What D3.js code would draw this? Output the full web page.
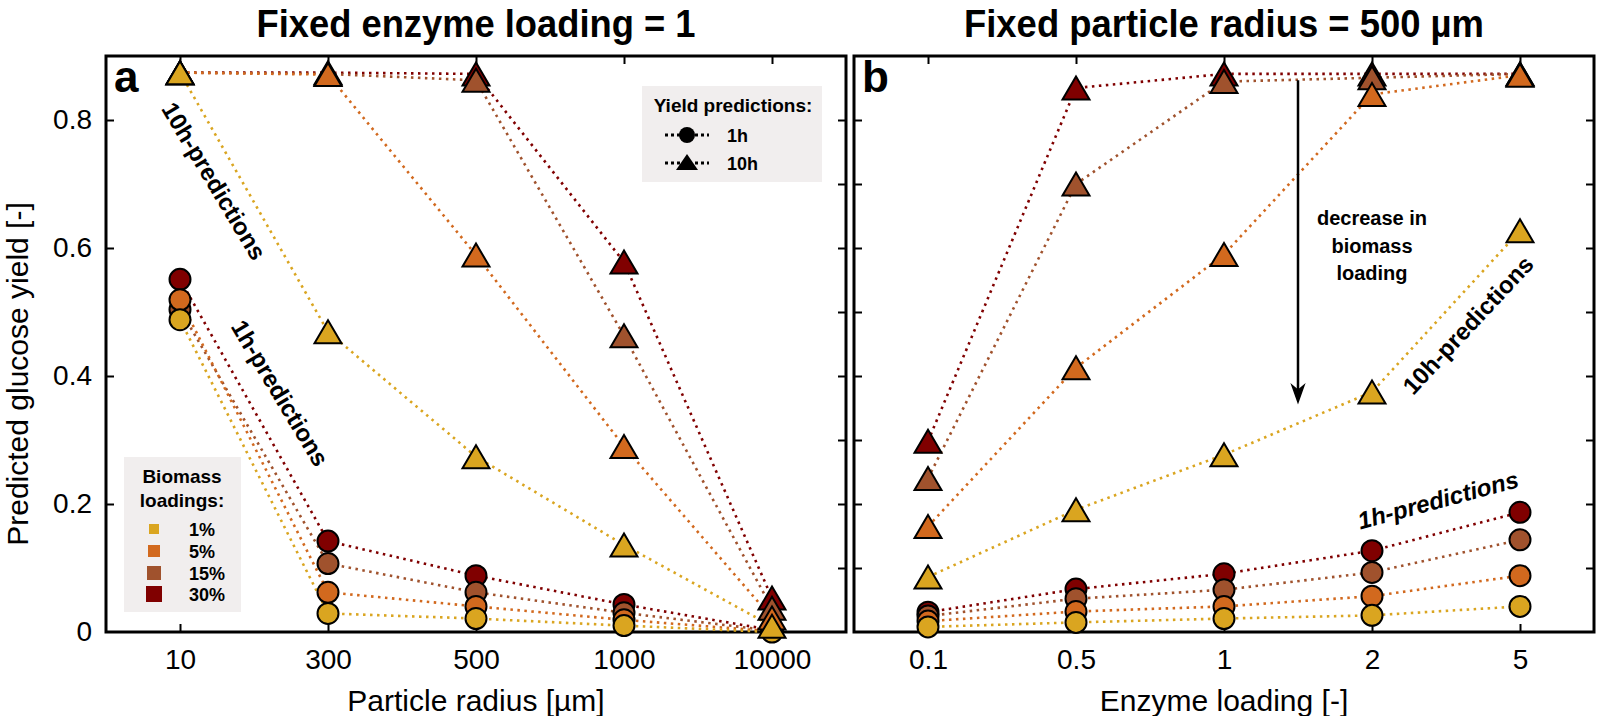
<!DOCTYPE html>
<html><head><meta charset="utf-8">
<script src="https://cdn.jsdelivr.net/npm/d3@7"></script>
<style>
body{margin:0;background:#fff}
svg{display:block}
text{font-family:"Liberation Sans",Arial,Helvetica,sans-serif;fill:#000}
</style>
</head><body>
<svg id="chart" width="1598" height="716"></svg>
<script>
// ---------- data ----------
const radiusCats = ["10","300","500","1000","10000"];
const enzymeCats = ["0.1","0.5","1","2","5"];
const loadingLabels = ["1%","5%","15%","30%"];
const loadingColors = ["#DAA520","#D2691E","#A0522D","#800000"];

// Panel a: fixed enzyme loading = 1, x = particle radius
const a1h_1  = [0.488, 0.029, 0.021, 0.010, 0.000];
const a1h_5  = [0.519, 0.062, 0.040, 0.019, 0.001];
const a1h_15 = [0.504, 0.107, 0.062, 0.030, 0.002];
const a1h_30 = [0.551, 0.142, 0.088, 0.043, 0.003];
const a10h_1  = [0.874, 0.469, 0.274, 0.136, 0.009];
const a10h_5  = [0.874, 0.871, 0.589, 0.290, 0.022];
const a10h_15 = [0.874, 0.872, 0.862, 0.463, 0.037];
const a10h_30 = [0.874, 0.874, 0.872, 0.578, 0.053];

// Panel b: fixed particle radius = 500 um, x = enzyme loading
const b1h_1  = [0.008, 0.015, 0.021, 0.026, 0.040];
const b1h_5  = [0.017, 0.032, 0.040, 0.056, 0.088];
const b1h_15 = [0.025, 0.052, 0.066, 0.093, 0.144];
const b1h_30 = [0.031, 0.067, 0.091, 0.127, 0.187];
const b10h_1  = [0.086, 0.191, 0.277, 0.375, 0.627];
const b10h_5  = [0.165, 0.413, 0.590, 0.840, 0.870];
const b10h_15 = [0.240, 0.700, 0.860, 0.866, 0.872];
const b10h_30 = [0.298, 0.850, 0.872, 0.872, 0.872];

const yLabelTicks = [0, 0.2, 0.4, 0.6, 0.8];
const yMinorTicks = [0.1, 0.2, 0.3, 0.4, 0.5, 0.6, 0.7, 0.8];

// ---------- drawing ----------
const svg = d3.select("#chart");
const TOP = 56, BOT = 632;
const y = d3.scaleLinear().domain([0, 0.9]).range([BOT, TOP]);

const triPath = "M0,-11.5L13.5,11.5L-13.5,11.5Z";

function panel(cfg) {
  const g = svg.append("g");
  const x = d3.scalePoint().domain(cfg.cats).range([cfg.left, cfg.right]).padding(0.5);

  // frame
  g.append("rect").attr("x", cfg.left).attr("y", TOP)
    .attr("width", cfg.right - cfg.left).attr("height", BOT - TOP)
    .attr("fill", "none").attr("stroke", "#000").attr("stroke-width", 3);

  // axes with inward ticks
  const bottom = g.append("g").attr("transform", `translate(0,${BOT})`)
    .call(d3.axisBottom(x).tickSize(-8).tickPadding(17));
  const top = g.append("g").attr("transform", `translate(0,${TOP})`)
    .call(d3.axisTop(x).tickSize(-8).tickFormat(""));
  const leftAx = d3.axisLeft(y).tickSize(-8).tickPadding(14)
    .tickValues(cfg.yLabels ? yLabelTicks.filter(v => v > 0) : yMinorTicks)
    .tickFormat(cfg.yLabels ? d3.format("") : "");
  const left = g.append("g").attr("transform", `translate(${cfg.left},0)`).call(leftAx);
  const right = g.append("g").attr("transform", `translate(${cfg.right},0)`)
    .call(d3.axisRight(y).tickSize(-8).tickValues(yMinorTicks).tickFormat(""));
  [bottom, top, left, right].forEach(a => {
    a.select(".domain").remove();
    a.selectAll(".tick line").attr("stroke", "#000").attr("stroke-width", 2);
    a.selectAll("text").attr("font-size", 28).attr("font-family", '"Liberation Sans",Arial,sans-serif').attr("fill", "#000");
  });
  if (cfg.yLabels) {
    g.append("text").attr("x", cfg.left - 14).attr("y", y(0)).attr("dy", "0.32em")
      .attr("text-anchor", "end").attr("font-size", 28).text("0");
  }

  const line = d3.line().x((d, i) => x(cfg.cats[i])).y(d => y(d));
  const order = [3, 2, 1, 0]; // 30% first, 1% last (on top)

  // dotted lines
  order.forEach(k => {
    [cfg.s1h[k], cfg.s10h[k]].forEach(s => {
      g.append("path").datum(s).attr("d", line)
        .attr("fill", "none").attr("stroke", loadingColors[k])
        .attr("stroke-width", 2.6).attr("stroke-dasharray", "2.5 4.5");
    });
  });
  // 1h circles
  order.forEach(k => {
    g.append("g").selectAll("circle").data(cfg.s1h[k]).join("circle")
      .attr("cx", (d, i) => x(cfg.cats[i])).attr("cy", d => y(d)).attr("r", 10.5)
      .attr("fill", loadingColors[k]).attr("stroke", "#000").attr("stroke-width", 2);
  });
  // 10h triangles
  order.forEach(k => {
    g.append("g").selectAll("path").data(cfg.s10h[k]).join("path")
      .attr("d", triPath)
      .attr("transform", (d, i) => `translate(${x(cfg.cats[i])},${y(d)})`)
      .attr("fill", loadingColors[k]).attr("stroke", "#000").attr("stroke-width", 2)
      .attr("stroke-linejoin", "miter");
  });

  // title
  svg.append("text").attr("x", (cfg.left + cfg.right) / 2).attr("y", 37)
    .attr("text-anchor", "middle").attr("font-size", 39).attr("font-weight", "bold")
    .attr("textLength", cfg.titleLen).attr("lengthAdjust", "spacingAndGlyphs")
    .text(cfg.title);
  // panel letter
  svg.append("text").attr("x", cfg.left + 8).attr("y", 92)
    .attr("font-size", 44).attr("font-weight", "bold").text(cfg.letter);
  // x label
  svg.append("text").attr("x", (cfg.left + cfg.right) / 2).attr("y", 711)
    .attr("text-anchor", "middle").attr("font-size", 30).text(cfg.xlabel);
  return x;
}

const xa = panel({
  left: 106, right: 846, cats: radiusCats,
  s1h: [a1h_1, a1h_5, a1h_15, a1h_30], s10h: [a10h_1, a10h_5, a10h_15, a10h_30],
  yLabels: true, title: "Fixed enzyme loading = 1", titleLen: 439, letter: "a",
  xlabel: "Particle radius [\u00b5m]"
});
const xb = panel({
  left: 854, right: 1594, cats: enzymeCats,
  s1h: [b1h_1, b1h_5, b1h_15, b1h_30], s10h: [b10h_1, b10h_5, b10h_15, b10h_30],
  yLabels: false, title: "Fixed particle radius = 500 \u00b5m", titleLen: 520, letter: "b",
  xlabel: "Enzyme loading [-]"
});

// y-axis label
svg.append("text").attr("transform", "translate(28,374) rotate(-90)")
  .attr("text-anchor", "middle").attr("font-size", 30).text("Predicted glucose yield [-]");

// rotated annotations
function note(txt, cx, cy, ang, italic) {
  svg.append("text").attr("transform", `translate(${cx},${cy}) rotate(${ang})`)
    .attr("text-anchor", "middle").attr("dy", "0.35em").attr("font-size", 24)
    .attr("font-weight", "bold")
    .attr("font-style", italic ? "italic" : "normal").text(txt);
}
note("10h-predictions", 214, 181, 59);
note("1h-predictions", 280, 393, 59);
note("10h-predictions", 1468, 325, -47);
note("1h-predictions", 1438, 500, -15, true);

// arrow "decrease in biomass loading"
const arrowX = (xb("1") + xb("2")) / 2;
svg.append("line").attr("x1", arrowX).attr("x2", arrowX)
  .attr("y1", y(0.862)).attr("y2", y(0.375))
  .attr("stroke", "#000").attr("stroke-width", 2.5);
const tipY = y(0.359);
svg.append("path")
  .attr("d", `M${arrowX},${tipY}L${arrowX - 6},${tipY - 17}L${arrowX},${tipY - 12}L${arrowX + 6},${tipY - 17}Z`)
  .attr("fill", "#000").attr("stroke", "#000").attr("stroke-width", 1.5);
["decrease in", "biomass", "loading"].forEach((t, i) => {
  svg.append("text").attr("x", xb("2")).attr("y", 225 + i * 27.5)
    .attr("text-anchor", "middle").attr("font-size", 20).attr("font-weight", "bold").text(t);
});

// legend: yield predictions
const lg = svg.append("g");
lg.append("rect").attr("x", 642).attr("y", 86).attr("width", 180).attr("height", 96).attr("fill", "#f1eeee");
lg.append("text").attr("x", 733).attr("y", 112).attr("text-anchor", "middle")
  .attr("font-size", 19).attr("font-weight", "bold").text("Yield predictions:");
[["1h", 135], ["10h", 163]].forEach(([t, cy], i) => {
  lg.append("line").attr("x1", 665).attr("x2", 709).attr("y1", cy).attr("y2", cy)
    .attr("stroke", "#000").attr("stroke-width", 3).attr("stroke-dasharray", "3 3");
  if (i === 0) lg.append("circle").attr("cx", 687).attr("cy", cy).attr("r", 8).attr("fill", "#000");
  else lg.append("path").attr("d", "M0,-9L11,7L-11,7Z").attr("transform", `translate(687,${cy})`).attr("fill", "#000");
  lg.append("text").attr("x", 727).attr("y", cy + 6.5).attr("font-size", 18).attr("font-weight", "bold").text(t);
});

// legend: biomass loadings
const bl = svg.append("g");
bl.append("rect").attr("x", 124).attr("y", 457).attr("width", 117).attr("height", 155).attr("fill", "#f1eeee");
bl.append("text").attr("x", 182).attr("y", 483).attr("text-anchor", "middle")
  .attr("font-size", 19).attr("font-weight", "bold").text("Biomass");
bl.append("text").attr("x", 182).attr("y", 507).attr("text-anchor", "middle")
  .attr("font-size", 19).attr("font-weight", "bold").text("loadings:");
const sqSizes = [10, 12, 14, 16];
const sqY = [529, 551, 573, 594];
loadingLabels.forEach((t, k) => {
  const s = sqSizes[k];
  bl.append("rect").attr("x", 154 - s / 2).attr("y", sqY[k] - s / 2).attr("width", s).attr("height", s)
    .attr("fill", loadingColors[k]);
  bl.append("text").attr("x", 189).attr("y", sqY[k] + 6.5).attr("font-size", 18)
    .attr("font-weight", "bold").text(t);
});
</script>
</body></html>
